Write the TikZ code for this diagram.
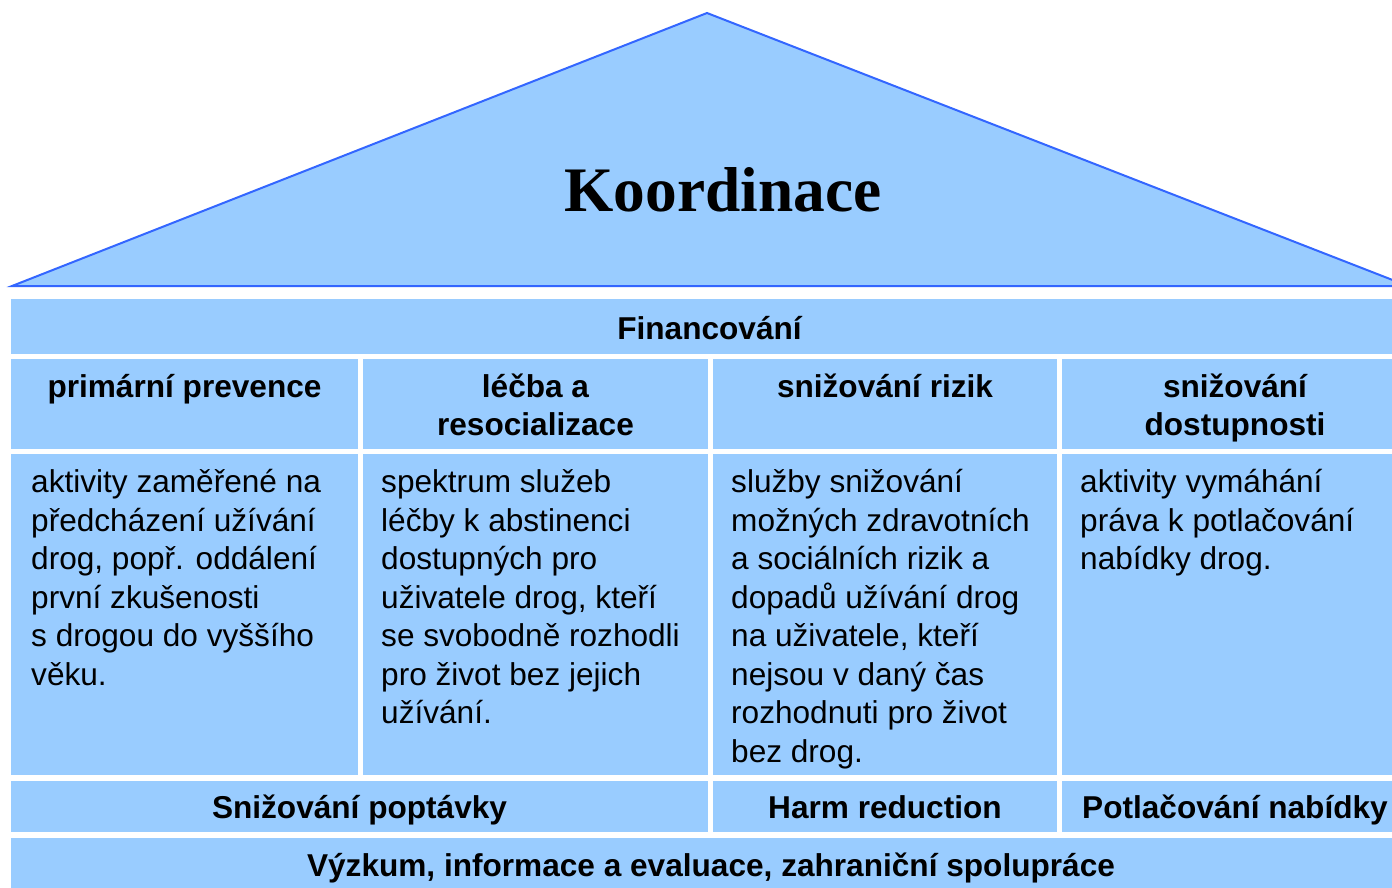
\documentclass[tikz,border=0pt]{standalone}
\usepackage{fontspec}
\setmainfont{Liberation Sans}
\newfontfamily\rooffont{Liberation Serif}
\definecolor{cellblue}{HTML}{99CCFF}
\definecolor{roofedge}{HTML}{3366FF}

\begin{document}
\begin{tikzpicture}[x=1pt,y=-1pt,
	cell/.style={fill=cellblue,draw=none,anchor=north west,inner sep=0pt,outer sep=0pt},
	headtext/.style={font=\fontsize{31.6}{38.5}\selectfont\bfseries,align=center,inner sep=0pt,anchor=base},
	bodytext/.style={font=\fontsize{31.6}{38.5}\selectfont,align=left,inner sep=0pt,anchor=base west}]
	\useasboundingbox (0,0) rectangle (1392,887);
	\clip (0,0) rectangle (1392,887);
	\coordinate (apex) at (707,13);
	\coordinate (eaveL) at (12,286);
	\coordinate (eaveR) at (1408,286);
	\filldraw[fill=cellblue,draw=roofedge,line width=2pt] (eaveL) -- (apex) -- (eaveR) -- cycle;
	\node[font=\rooffont\fontsize{63.4}{70}\selectfont\bfseries,inner sep=0pt,anchor=base] (koord) at (723,211) {Koordinace};
	\node[cell,minimum width=1397pt,minimum height=55pt] (fin) at (11,299) {};
	\node[cell,minimum width=347pt,minimum height=90pt] (h1) at (11,359) {};
	\node[cell,minimum width=345pt,minimum height=90pt] (h2) at (363,359) {};
	\node[cell,minimum width=344pt,minimum height=90pt] (h3) at (713,359) {};
	\node[cell,minimum width=346pt,minimum height=90pt] (h4) at (1062,359) {};
	\node[cell,minimum width=347pt,minimum height=321pt] (b1) at (11,454) {};
	\node[cell,minimum width=345pt,minimum height=321pt] (b2) at (363,454) {};
	\node[cell,minimum width=344pt,minimum height=321pt] (b3) at (713,454) {};
	\node[cell,minimum width=346pt,minimum height=321pt] (b4) at (1062,454) {};
	\node[cell,minimum width=697pt,minimum height=51pt] (demand) at (11,781) {};
	\node[cell,minimum width=344pt,minimum height=51pt] (harm) at (713,781) {};
	\node[cell,minimum width=346pt,minimum height=51pt] (supply) at (1062,781) {};
	\node[cell,minimum width=1397pt,minimum height=60pt] (research) at (11,838) {};
	\node[headtext] (finT) at (709.5,339) {Financování};
	\node[headtext] (h1T) at (184.5,397) {primární prevence};
	\node[headtext] (h2T) at (535.5,435.5) {léčba a\\resocializace};
	\node[headtext] (h3T) at (885,397) {snižování rizik};
	\node[headtext] (h4T) at (1235,435.5) {snižování\\dostupnosti};
	\node[bodytext] (b1T) at (31,685) {aktivity zaměřené na\\předcházení užívání\\drog, popř. oddálení\\první zkušenosti\\s drogou do vyššího\\věku.};
	\node[bodytext] (b2T) at (381,723.5) {spektrum služeb\\léčby k abstinenci\\dostupných pro\\uživatele drog, kteří\\se svobodně rozhodli\\pro život bez jejich\\užívání.};
	\node[bodytext] (b3T) at (731,762) {služby snižování\\možných zdravotních\\a sociálních rizik a\\dopadů užívání drog\\na uživatele, kteří\\nejsou v daný čas\\rozhodnuti pro život\\bez drog.};
	\node[bodytext] (b4T) at (1080,569.5) {aktivity vymáhání\\práva k potlačování\\nabídky drog.};
	\node[headtext] (demandT) at (359.5,818) {Snižování poptávky};
	\node[headtext] (harmT) at (885,818) {Harm reduction};
	\node[headtext] (supplyT) at (1235,818) {Potlačování nabídky};
	\node[headtext] (researchT) at (711,876) {Výzkum, informace a evaluace, zahraniční spolupráce};
\end{tikzpicture}
\end{document}
